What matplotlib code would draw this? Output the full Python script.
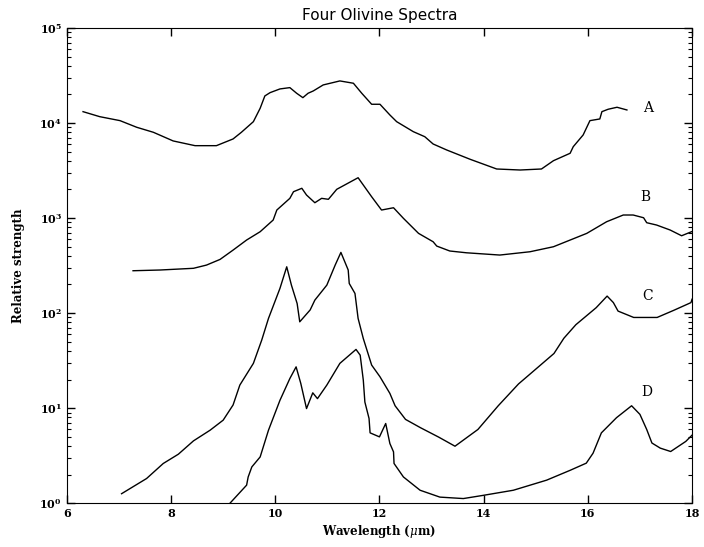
import matplotlib
matplotlib.use("Agg")
import matplotlib.pyplot as plt
from matplotlib.ticker import LogLocator, LogFormatterSciNotation, MultipleLocator, NullFormatter

plt.rcParams['font.family'] = ['DejaVu Serif']
plt.rcParams['mathtext.fontset'] = 'dejavuserif'

# Curve A
a_x = [6.31, 6.63, 7.02, 7.34, 7.66, 8.04, 8.46, 8.87, 9.19, 9.35, 9.58, 9.71, 9.80, 9.90,
       10.09, 10.28, 10.41, 10.53, 10.63, 10.73, 10.92, 11.24, 11.50, 11.66, 11.85, 12.01,
       12.20, 12.33, 12.65, 12.87, 13.03, 13.29, 13.74, 14.25, 14.70, 15.11, 15.34, 15.66,
       15.72, 15.91, 16.04, 16.23, 16.27, 16.39, 16.56, 16.75]
a_y = [13150, 11650, 10580, 9010, 7980, 6470, 5770, 5770, 6790, 7980, 10320, 14280, 19240, 20840,
       22800, 23540, 20540, 18460, 20540, 21720, 25120, 27680, 26170, 20540, 15730, 15730,
       12140, 10320, 8100, 7170, 6010, 5200, 4150, 3280, 3200, 3280, 4010, 4800,
       5630, 7480, 10580, 11020, 13150, 13940, 14630, 13700]

# Curve B
b_x = [7.27, 7.79, 8.43, 8.68, 8.94, 9.19, 9.45, 9.71, 9.96, 10.03, 10.28, 10.35, 10.51, 10.60,
       10.76, 10.89, 11.02, 11.18, 11.59, 11.85, 12.04, 12.27, 12.46, 12.75, 13.03, 13.10,
       13.35, 13.67, 14.31, 14.89, 15.34, 15.98, 16.36, 16.68, 16.87, 17.07, 17.13, 17.32,
       17.58, 17.80, 17.99]
b_y = [279, 284, 296, 320, 367, 460, 587, 718, 953, 1214, 1611, 1892, 2055, 1746,
       1449, 1611, 1574, 2005, 2655, 1675, 1214, 1283, 993, 690, 563, 507,
       450, 431, 408, 442, 499, 690, 914, 1076, 1076, 1007, 893, 844,
       748, 651, 718]

# Curve C
c_x = [7.05, 7.53, 7.85, 8.14, 8.43, 8.75, 9.00, 9.19, 9.32, 9.58, 9.74, 9.87, 10.09, 10.22,
       10.31, 10.42, 10.47, 10.67, 10.76, 10.99, 11.15, 11.26, 11.40, 11.42, 11.53, 11.59,
       11.69, 11.85, 12.01, 12.20, 12.30, 12.50, 12.79, 13.14, 13.45, 13.89, 14.28, 14.67,
       14.86, 15.35, 15.54, 15.77, 16.16, 16.37, 16.49, 16.58, 16.88, 17.33, 17.65, 17.98, 18.0]
c_y = [1.26, 1.82, 2.62, 3.28, 4.53, 5.87, 7.48, 10.8, 17.5, 29.6, 52, 88, 182, 307,
       197, 126, 81, 108, 137, 197, 320, 435, 284, 205, 161, 88,
       54, 28.4, 21.4, 14.3, 10.6, 7.62, 6.22, 4.95, 3.98, 5.97, 10.6, 18.0,
       22.1, 37.6, 54.4, 75.5, 114, 151, 129, 105, 90, 90, 107, 129, 140]

# Curve D
d_x = [9.13, 9.45, 9.48, 9.55, 9.71, 9.87, 10.09, 10.28, 10.40, 10.49, 10.60, 10.72, 10.81,
       10.99, 11.24, 11.55, 11.63, 11.69, 11.72, 11.80, 11.82, 12.00, 12.12, 12.20, 12.27,
       12.28, 12.46, 12.78, 13.16, 13.61, 13.99, 14.57, 15.21, 15.66, 15.97, 16.10, 16.26,
       16.55, 16.84, 17.00, 17.13, 17.23, 17.39, 17.59, 17.88, 18.0]
d_y = [1.0, 1.55, 1.89, 2.41, 3.07, 5.87, 12.1, 20.5, 27.2, 18.2, 9.9, 14.5, 12.6,
       17.5, 29.6, 41.5, 36.1, 19.7, 11.6, 7.8, 5.5, 4.99, 6.9, 4.25, 3.47,
       2.62, 1.89, 1.37, 1.16, 1.12, 1.21, 1.37, 1.75, 2.22, 2.64, 3.36, 5.5,
       7.94, 10.6, 8.6, 5.97, 4.3, 3.8, 3.5, 4.47, 5.2]

labels = ["A", "B", "C", "D"]
label_x = [17.16, 17.10, 17.14, 17.14]
label_y = [14400, 1660, 151, 14.7]

fig = plt.figure(figsize=(7.04, 5.47), dpi=100)
ax = fig.add_axes([0.095, 0.080, 0.888, 0.869])

for xs, ys in [(a_x, a_y), (b_x, b_y), (c_x, c_y), (d_x, d_y)]:
    ax.plot(xs, ys, color='black', lw=1.0)

for t, lx, ly in zip(labels, label_x, label_y):
    ax.text(lx, ly, t, ha='center', va='center', fontsize=10, family='DejaVu Serif')

ax.set_yscale('log')
ax.set_xlim(6, 18)
ax.set_ylim(1, 1e5)
ax.xaxis.set_major_locator(MultipleLocator(2))
ax.yaxis.set_major_locator(LogLocator(base=10, numticks=10))
ax.yaxis.set_minor_locator(LogLocator(base=10, subs=range(2, 10), numticks=20))
ax.yaxis.set_minor_formatter(NullFormatter())
ax.yaxis.set_major_formatter(LogFormatterSciNotation())
ax.tick_params(which='both', direction='in', top=True, right=True, labelsize=8)
ax.tick_params(which='major', length=6, width=1)
ax.tick_params(which='minor', length=3, width=0.8)
for lab in ax.get_xticklabels() + ax.get_yticklabels():
    lab.set_fontweight('bold')

ax.set_title("Four Olivine Spectra", fontsize=11, family='DejaVu Sans', pad=6)
ax.set_xlabel(r"Wavelength ($\mu$m)", fontsize=8.5, fontweight='bold', labelpad=3)
ax.set_ylabel("Relative strength", fontsize=8.5, fontweight='bold', labelpad=10)

fig.savefig("out.png", dpi=100)
